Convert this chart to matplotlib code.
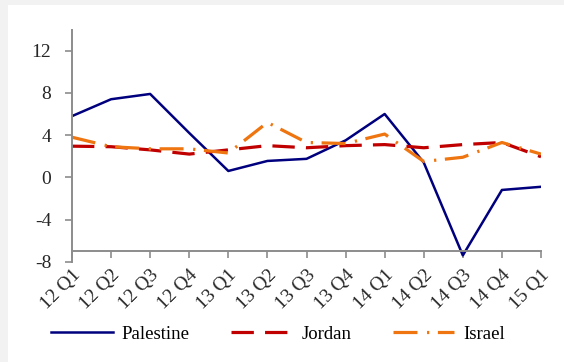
import numpy as np
import matplotlib.pyplot as plt
from matplotlib.patches import Rectangle

quarters = ["12 Q1", "12 Q2", "12 Q3", "12 Q4", "13 Q1", "13 Q2", "13 Q3",
            "13 Q4", "14 Q1", "14 Q2", "14 Q3", "14 Q4", "15 Q1"]
palestine = [5.8, 7.4, 7.9, 4.2, 0.6, 1.55, 1.75, 3.5, 6.0, 1.4, -7.4, -1.2, -0.9]
jordan = [2.95, 2.9, 2.6, 2.2, 2.6, 3.0, 2.8, 3.0, 3.1, 2.8, 3.1, 3.3, 1.95]
israel = [3.8, 2.9, 2.7, 2.7, 2.3, 5.2, 3.3, 3.2, 4.1, 1.5, 1.9, 3.3, 2.2]
yticks = [-8, -4, 0, 4, 8, 12]

plt.rcParams['font.family'] = ['Liberation Serif', 'DejaVu Serif']
grey = '#8c8c8c'

fig = plt.figure(figsize=(5.64, 3.62), dpi=100, facecolor='#f2f2f2')
# white panel inside the grey frame
fig.patches.append(Rectangle((8 / 564, 0), 1, 1 - 5 / 362, transform=fig.transFigure,
                             facecolor='white', edgecolor='none', zorder=-10))

ax = fig.add_axes([72 / 564, 1 - 261.7 / 362, (541 - 72) / 564, (261.7 - 29.6) / 362])
ax.set_facecolor('none')

x = np.arange(len(quarters))
ax.plot(x, palestine, color='#00007f', lw=1.8, label='Palestine')
ax.plot(x, jordan, color='#c00000', lw=2.3, dashes=(7, 3.5), label='Jordan')
ax.plot(x, israel, color='#ee7510', lw=2.3, dashes=(7.5, 3, 0.7, 2.7), label='Israel')

for s in ['top', 'right']:
    ax.spines[s].set_visible(False)
ax.spines['bottom'].set_position(('data', -7))
for s in ['left', 'bottom']:
    ax.spines[s].set_color(grey)
    ax.spines[s].set_linewidth(1.4)
ax.tick_params(axis='both', color=grey, width=1.2, length=5, direction='out')
ax.tick_params(axis='x', pad=6)
ax.tick_params(axis='y', pad=10)

ax.set_xlim(0, len(quarters) - 1)
ax.set_ylim(-8, 14)
ax.set_yticks(yticks)
ax.set_yticklabels([str(v) for v in yticks], fontsize=14, color='#262626')
ax.set_xticks(x)
ax.set_xticklabels(quarters, rotation=45, ha='right', rotation_mode='anchor',
                   fontsize=14, color='#262626')

fig.legend(loc='center', bbox_to_anchor=(0.493, 1 - 334 / 362), ncol=3, frameon=False,
           fontsize=13.5, handlelength=3.3, columnspacing=2.2, handletextpad=0.45)

fig.savefig('out.png', dpi=100, facecolor=fig.get_facecolor())
